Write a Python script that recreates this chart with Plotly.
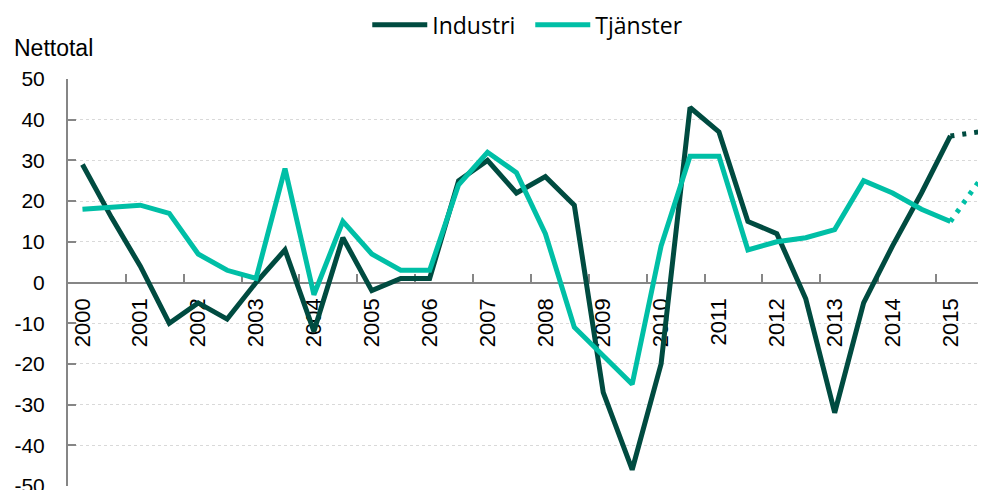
import plotly.graph_objects as go

# Half-year observations 2000 H1 .. 2015 H2 (last point = forecast, dotted)
periods = [f"{y} H{h}" for y in range(2000, 2016) for h in (1, 2)]
year_labels = [str(y) for y in range(2000, 2016)]
y_ticks = list(range(-50, 51, 10))
y_tick_labels = [str(v) for v in y_ticks]  # plain hyphen minus as in the original

industri = [29, 16, 4, -10, -5, -9, 0, 8, -12, 11, -2, 1, 1, 25, 30, 22,
            26, 19, -27, -46, -20, 43, 37, 15, 12, -4, -32, -5, 9, 22, 36, 37]
tjanster = [18, 18.5, 19, 17, 7, 3, 1, 28, -3, 15, 7, 3, 3, 24, 32, 27,
            12, -11, -18, -25, 9, 31, 31, 8, 10, 11, 13, 25, 22, 18, 15, 25]

n_actual = 31  # points drawn solid; the rest are the dotted forecast

C_IND = "#004B40"
C_TJA = "#00BFA6"

idx = list(range(len(periods)))

fig = go.Figure()
fig.add_trace(go.Scatter(x=idx[:n_actual], y=industri[:n_actual], mode="lines",
                         name="Industri", line=dict(color=C_IND, width=5)))
fig.add_trace(go.Scatter(x=idx[:n_actual], y=tjanster[:n_actual], mode="lines",
                         name="Tjänster", line=dict(color=C_TJA, width=5)))
fig.add_trace(go.Scatter(x=idx[n_actual - 1:], y=industri[n_actual - 1:], mode="lines",
                         showlegend=False, line=dict(color=C_IND, width=5, dash="4px,8px")))
fig.add_trace(go.Scatter(x=idx[n_actual - 1:], y=tjanster[n_actual - 1:], mode="lines",
                         showlegend=False, line=dict(color=C_TJA, width=5, dash="4px,7px")))

x_font = dict(family="Liberation Sans, Arial, sans-serif", size=22, color="#000000")
y_font = dict(family="Liberation Sans, Arial, sans-serif", size=21, color="#000000")

# page body has an 8px default margin, so the figure is 8px smaller each way
fig.update_layout(
    width=978, height=482,
    margin=dict(l=60, r=0, t=71, b=4, autoexpand=False),
    paper_bgcolor="white", plot_bgcolor="white",
    showlegend=True,
    legend=dict(orientation="h", x=0.326, xanchor="left", y=1.133, yanchor="middle",
                font=dict(family="Open Sans, sans-serif", size=23, color="#000000"),
                itemwidth=55, entrywidth=93, tracegroupgap=0),
    xaxis=dict(
        range=[-0.5, 31.23], anchor="free", position=0.5, automargin=False,
        tickmode="array", tickvals=idx[::2], ticktext=year_labels,
        tickangle=-90, tickfont=x_font, ticks="", ticklabelstandoff=6,
        showline=True, linecolor="#868686", linewidth=2,
        showgrid=False, zeroline=False, layer="below traces",
        minor=dict(tickvals=[i + 1.5 for i in idx[::2]], ticks="inside",
                   ticklen=8, tickcolor="#868686", tickwidth=2, showgrid=False),
    ),
    yaxis=dict(
        range=[-50, 50], automargin=False,
        tickmode="array", tickvals=y_ticks, ticktext=y_tick_labels,
        tickfont=y_font, ticks="inside", ticklen=8, tickcolor="#868686", tickwidth=2,
        ticklabelstandoff=17, ticklabeloverflow="allow",
        showline=True, linecolor="#868686", linewidth=2,
        showgrid=True, gridcolor="#d9d9d9", gridwidth=1, griddash="dot",
        zeroline=False, layer="below traces",
    ),
    annotations=[dict(text="Nettotal", xref="paper", yref="paper", x=-0.061, y=1.076,
                      xanchor="left", yanchor="middle", showarrow=False,
                      font=dict(family="Liberation Sans, Arial, sans-serif", size=23,
                                color="#000000"))],
)

fig.write_html("out.html")
